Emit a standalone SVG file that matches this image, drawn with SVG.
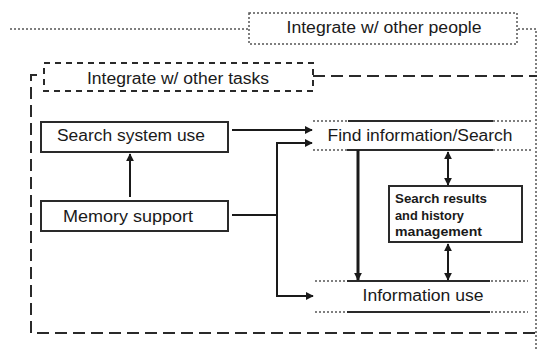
<svg xmlns="http://www.w3.org/2000/svg" width="542" height="350" viewBox="0 0 542 350">
  <style>
    .lbl { font-family: "Liberation Sans", Arial, sans-serif; font-size: 16px; fill: #1a1a1a; }
    .small { font-family: "Liberation Sans", Arial, sans-serif; font-size: 13px; fill: #1a1a1a; font-weight: bold; }
    .box { fill: #fff; stroke: #2a2a2a; stroke-width: 2; }
    .dot { fill: none; stroke: #555; stroke-width: 1.5; stroke-dasharray: 2 2; }
    .solid { fill: none; stroke: #2a2a2a; stroke-width: 2; }
    .dash { fill: none; stroke: #2a2a2a; stroke-width: 2; stroke-dasharray: 12 6; }
    .dashs { fill: none; stroke: #2a2a2a; stroke-width: 2; stroke-dasharray: 6 5; }
    .conn { fill: none; stroke: #1a1a1a; stroke-width: 2; }
  </style>
  <defs>
    <marker id="ah" viewBox="0 0 10 10" refX="9" refY="5" markerWidth="8" markerHeight="8" orient="auto-start-reverse" markerUnits="userSpaceOnUse">
      <path d="M0,0 L10,5 L0,10 z" fill="#1a1a1a"/>
    </marker>
  </defs>
  <rect width="542" height="350" fill="#fff"/>

  <!-- outer frames -->
  <g id="frames">
    <path class="dot" d="M10,29 H248"/>
    <path class="dot" d="M518,29 H536 V350"/>
    <path class="dash" d="M37,75 H31 V333 H537"/>
    <path class="dash" d="M313,76 H537"/>
  </g>

  <g id="people">
    <rect class="dot" x="249" y="13" width="268" height="31" fill="#fff"/>
    <text class="lbl" x="384" y="33" text-anchor="middle" textLength="195" lengthAdjust="spacingAndGlyphs">Integrate w/ other people</text>
  </g>

  <g id="tasks">
    <rect class="dashs" x="44" y="63" width="269" height="28" fill="#fff"/>
    <text class="lbl" x="178" y="84" text-anchor="middle" textLength="182" lengthAdjust="spacingAndGlyphs">Integrate w/ other tasks</text>
  </g>

  <g id="search-system">
    <rect class="box" x="41" y="122" width="187" height="30"/>
    <text class="lbl" x="131" y="141" text-anchor="middle" textLength="148" lengthAdjust="spacingAndGlyphs">Search system use</text>
  </g>

  <g id="memory">
    <rect class="box" x="41" y="201" width="187" height="30"/>
    <text class="lbl" x="128" y="222" text-anchor="middle" textLength="130" lengthAdjust="spacingAndGlyphs">Memory support</text>
  </g>

  <g id="find">
    <path class="dot" d="M313,121 H531 M313,150 H532"/>
    <path class="solid" d="M348,121 H493 M347,150 H493"/>
    <text class="lbl" x="420" y="141" text-anchor="middle" textLength="185" lengthAdjust="spacingAndGlyphs">Find information/Search</text>
  </g>

  <g id="results">
    <rect class="box" x="389" y="186" width="133" height="56"/>
    <text class="small" x="395" y="203" textLength="92" lengthAdjust="spacingAndGlyphs">Search results</text>
    <text class="small" x="395" y="220" textLength="69" lengthAdjust="spacingAndGlyphs">and history</text>
    <text class="small" x="395" y="236" textLength="87" lengthAdjust="spacingAndGlyphs">management</text>
  </g>

  <g id="use">
    <path class="dot" d="M315,281 H528 M315,312 H528"/>
    <path class="solid" d="M347,281 H490 M347,312 H490"/>
    <text class="lbl" x="423" y="301" text-anchor="middle" textLength="121" lengthAdjust="spacingAndGlyphs">Information use</text>
  </g>

  <g id="connectors">
    <path class="conn" d="M232,130 H312" marker-end="url(#ah)"/>
    <path class="conn" d="M130,197 V154" marker-end="url(#ah)"/>
    <path class="conn" d="M232,215 H277"/>
    <path class="conn" d="M312,143 H277 V296 H313" marker-start="url(#ah)" marker-end="url(#ah)"/>
    <path class="conn" style="stroke-width:3" d="M358,150 V280" marker-end="url(#ah)"/>
    <path class="conn" d="M448,152 V185" marker-start="url(#ah)" marker-end="url(#ah)"/>
    <path class="conn" d="M448,244 V280" marker-start="url(#ah)" marker-end="url(#ah)"/>
  </g>
</svg>
